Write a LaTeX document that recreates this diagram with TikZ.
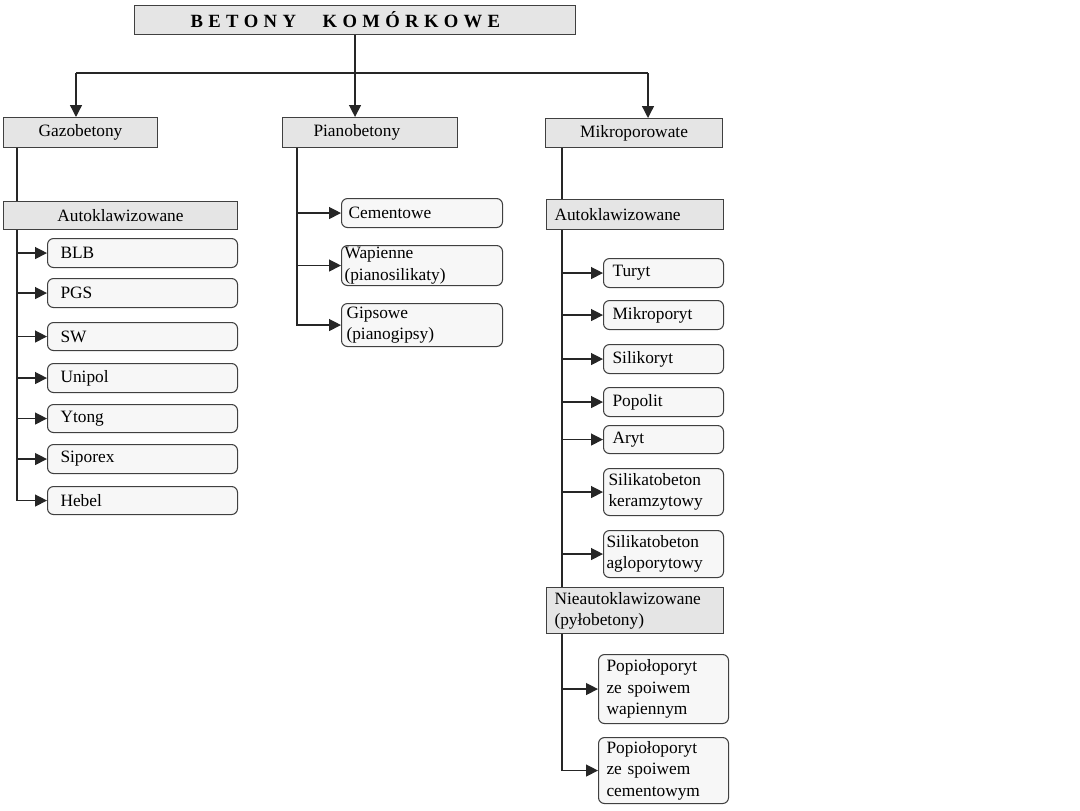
\documentclass[tikz,border=0pt]{standalone}
\usepackage{fontspec}
\setmainfont{Liberation Serif}
\usetikzlibrary{arrows.meta}
\newcommand\bx[8]{%
 \pgfmathsetmacro\bxtw{(#5-#3-2*#7)*0.75}%
 \pgfmathsetmacro\bxh{(#6-#4)*0.75}%
 \pgfmathsetmacro\bxs{#7*0.75}%
 \node[#2, anchor=north west, inner xsep=\bxs pt, inner ysep=0pt, text width=\bxtw pt, minimum height=\bxh pt] (#1) at (#3,#4) {#8};}
\newcommand\ls{\hspace{4pt}}
\begin{document}
\begin{tikzpicture}[x=0.75pt,y=-0.75pt, font=\fontsize{13}{16}\selectfont,
 hdr/.style={draw=black!75, fill=black!10, line width=0.8pt, rectangle},
 leaf/.style={draw=black!75, fill=black!3, line width=0.8pt, rectangle, rounded corners=4.5pt, align=left},
 conn/.style={line width=1pt, black!85},
 arr/.style={conn, -{Triangle[length=9pt,width=9pt]}}]
\path[use as bounding box] (0,0) rectangle (1080,810);

% headers
\bx{title}{hdr,align=left}{134}{5}{575}{34}{56}{\fontsize{14}{16}\selectfont\bfseries B\ls E\ls T\ls O\ls N\ls Y\hspace{20pt}K\ls O\ls M\ls Ó\ls R\ls K\ls O\ls W\ls E}
\bx{gaz}{hdr,align=center}{3}{117}{157}{147}{4}{Gazobetony}
\bx{pian}{hdr,align=left}{282}{117}{457}{147}{31}{Pianobetony}
\bx{mik}{hdr,align=center}{545}{118}{722}{147}{4}{Mikroporowate}
\bx{aut1}{hdr,align=center}{3}{201}{237}{229}{4}{Autoklawizowane}
\bx{aut2}{hdr,align=left}{546}{199}{723}{229}{8}{Autoklawizowane}
\bx{nie}{hdr,align=left}{546}{587}{723}{633}{8}{Nieautoklawizowane\\(pyłobetony)}

% Gazobetony leaves
\bx{blb}{leaf}{47}{238}{237}{267}{13}{BLB}
\bx{pgs}{leaf}{47}{278}{237}{307}{13}{PGS}
\bx{sw}{leaf}{47}{322}{237}{350}{13}{SW}
\bx{unipol}{leaf}{47}{363}{237}{392}{13}{Unipol}
\bx{ytong}{leaf}{47}{404}{237}{432}{13}{Ytong}
\bx{siporex}{leaf}{47}{444}{237}{473}{13}{Siporex}
\bx{hebel}{leaf}{47}{486}{237}{514}{13}{Hebel}

% Pianobetony leaves
\bx{cem}{leaf}{341}{198}{502}{227}{7}{Cementowe}
\bx{wap}{leaf}{341}{245}{502}{285}{3}{Wapienne\\(pianosilikaty)}
\bx{gips}{leaf}{341}{303}{502}{346}{5}{Gipsowe\\(pianogipsy)}

% Mikroporowate leaves
\bx{turyt}{leaf}{603}{258}{723}{287}{9}{Turyt}
\bx{mikro}{leaf}{603}{300}{723}{329}{9}{Mikroporyt}
\bx{sili}{leaf}{603}{344}{723}{373}{9}{Silikoryt}
\bx{popo}{leaf}{603}{387}{723}{416}{9}{Popolit}
\bx{aryt}{leaf}{603}{425}{723}{453}{9}{Aryt}
\bx{ker}{leaf}{603}{468}{723}{515}{5}{Silikatobeton\\keramzytowy}
\bx{aglo}{leaf}{603}{530}{723}{577}{3}{Silikatobeton\\agloporytowy}
\bx{pop1}{leaf}{598}{654}{728}{723}{8}{Popiołoporyt\\ze spoiwem\\wapiennym}
\bx{pop2}{leaf}{598}{737}{728}{803}{8}{Popiołoporyt\\ze spoiwem\\cementowym}

% top distribution
\coordinate (hl) at (76,73);
\coordinate (hr) at (648,73);
\draw[conn] (hl) -- (hr);
\draw[arr] (title.south) -- (title.south |- pian.north);
\draw[arr] (hl) -- (hl |- gaz.north);
\draw[arr] (hr) -- (hr |- mik.north);

% Gazobetony branch
\coordinate (gl) at (17,0);
\draw[conn] (gl |- gaz.south) -- (gl |- aut1.north);
\draw[arr] (gl |- aut1.south) -- (gl |- hebel.west) -- (hebel.west);
\foreach \n in {blb,pgs,sw,unipol,ytong,siporex}
  \draw[arr] (gl |- \n.west) -- (\n.west);

% Pianobetony branch
\coordinate (pl) at (297,0);
\draw[arr] (pl |- pian.south) -- (pl |- gips.west) -- (gips.west);
\foreach \n in {cem,wap}
  \draw[arr] (pl |- \n.west) -- (\n.west);

% Mikroporowate branch
\coordinate (ml) at (562,0);
\draw[conn] (ml |- mik.south) -- (ml |- aut2.north);
\draw[conn] (ml |- aut2.south) -- (ml |- nie.north);
\foreach \n in {turyt,mikro,sili,popo,aryt,ker,aglo}
  \draw[arr] (ml |- \n.west) -- (\n.west);
\draw[arr] (ml |- nie.south) -- (ml |- pop2.west) -- (pop2.west);
\draw[arr] (ml |- pop1.west) -- (pop1.west);
\end{tikzpicture}
\end{document}
